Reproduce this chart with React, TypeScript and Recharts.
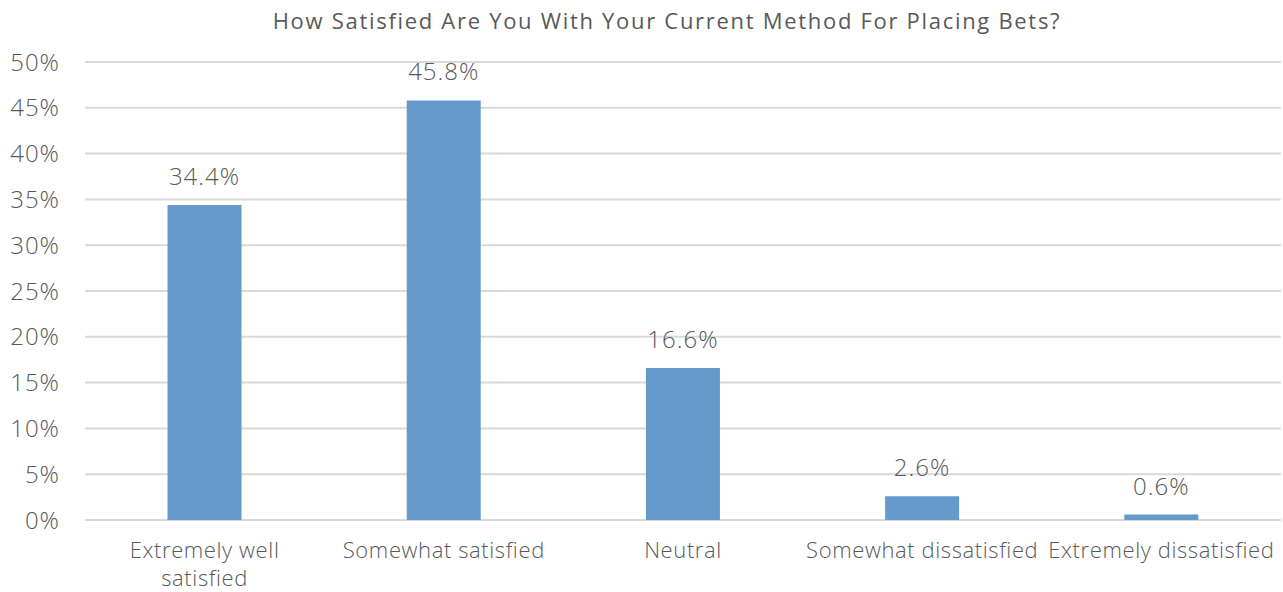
import { BarChart, Bar, XAxis, YAxis, CartesianGrid, LabelList } from 'recharts'

const CATEGORIES = [
  'Extremely well\nsatisfied',
  'Somewhat satisfied',
  'Neutral',
  'Somewhat dissatisfied',
  'Extremely dissatisfied',
]
const SHARES = [34.4, 45.8, 16.6, 2.6, 0.6]
const Y_TICKS = [0, 5, 10, 15, 20, 25, 30, 35, 40, 45, 50]

const TEXT = '#595959'
const FONT = '"Open Sans", Lato, sans-serif'

const chartData = CATEGORIES.map((name, i) => ({ name, share: SHARES[i] }))

function CategoryTick({ x, y, payload }: { x: number; y: number; payload: { value: string } }) {
  const lines = String(payload.value).split('\n')
  return (
    <text
      x={x} y={y} textAnchor="middle" fill={TEXT}
      fontSize={22} fontFamily={FONT} fontWeight={300} letterSpacing={0.6}
    >
      {lines.map((l, i) => (
        <tspan key={i} x={x} dy={i === 0 ? 30 : 28}>{l}</tspan>
      ))}
    </text>
  )
}

export default function App() {
  return (
    <div style={{ position: 'absolute', left: 0, top: 0, width: 1283, height: 592, background: '#fff' }}>
      <div
        style={{
          position: 'absolute', left: 0, top: 5, width: 1334, textAlign: 'center',
          fontFamily: FONT, fontSize: 22, color: TEXT, letterSpacing: 1.7,
        }}
      >
        How Satisfied Are You With Your Current Method For Placing Bets?
      </div>
      <BarChart
        width={1283}
        height={592}
        data={chartData}
        margin={{ top: 62, right: 2, left: 0, bottom: 0 }}
        barCategoryGap="34.5%"
      >
        <CartesianGrid stroke="#D9D9D9" strokeWidth={2} vertical={false} />
        <XAxis
          dataKey="name"
          height={72}
          axisLine={false}
          tickLine={false}
          interval={0}
          tick={CategoryTick as any}
        />
        <YAxis
          width={85}
          domain={[0, 50]}
          ticks={Y_TICKS}
          tickFormatter={(v: number) => `${v}%`}
          axisLine={false}
          tickLine={false}
          tickSize={0}
          tickMargin={25}
          tick={{ fill: TEXT, fontSize: 24, fontFamily: FONT, fontWeight: 300, letterSpacing: 1 }}
        />
        <Bar dataKey="share" fill="#6699CC" isAnimationActive={false}>
          <LabelList
            dataKey="share"
            position="top"
            offset={20}
            formatter={(v: number) => `${v.toFixed(1)}%`}
            style={{ fill: TEXT, fontSize: 24, fontFamily: FONT, fontWeight: 300, letterSpacing: 1 }}
          />
        </Bar>
      </BarChart>
    </div>
  )
}
